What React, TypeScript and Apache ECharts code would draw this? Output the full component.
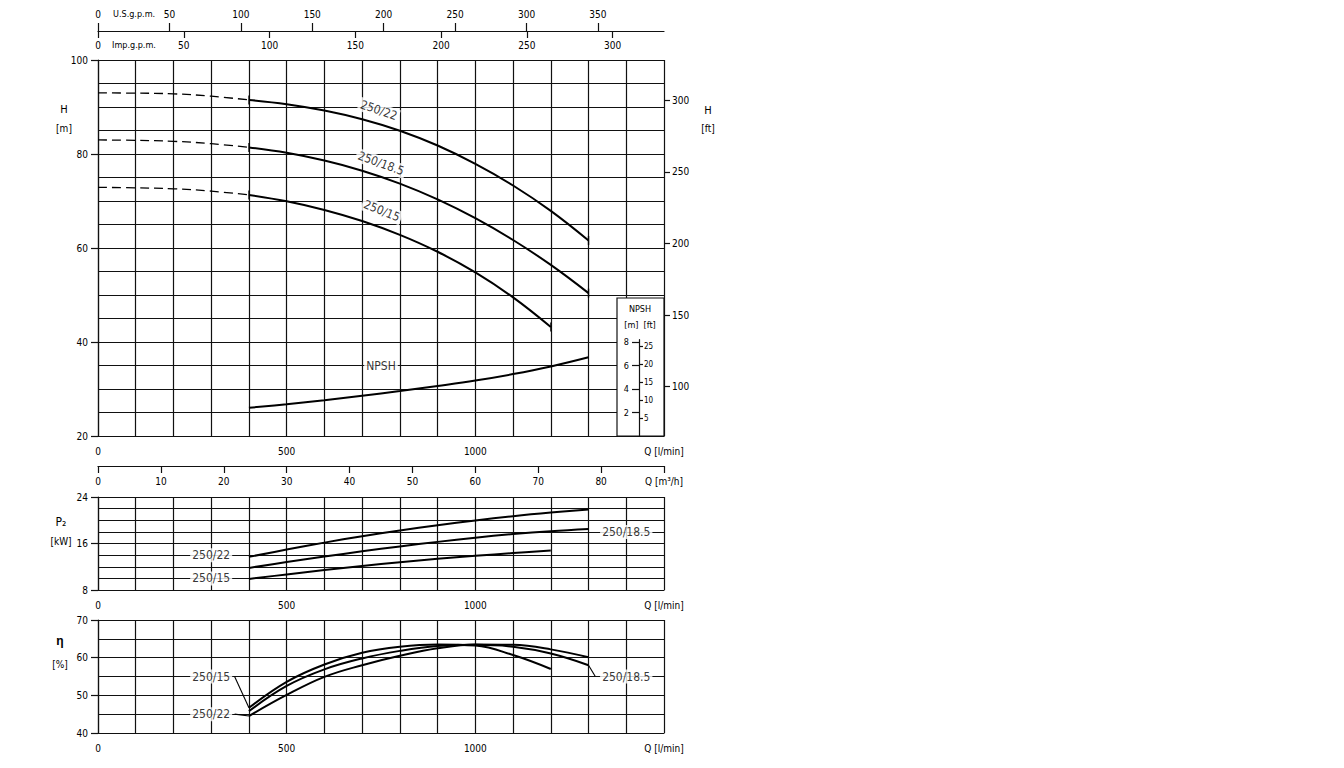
import React, { useEffect, useRef } from "react";
import * as echarts from "echarts";

// ---- data (flow Q in l/min) ----
const Q_SHUTOFF = [0, 100, 200, 300, 400];
const Q_22 = [400, 500, 600, 700, 800, 900, 1000, 1100, 1200, 1300];
const Q_185 = [400, 500, 600, 700, 800, 900, 1000, 1100, 1200, 1300];
const Q_15 = [400, 500, 600, 700, 800, 900, 1000, 1100, 1200];
const Q_NPSH = [400, 500, 600, 700, 800, 900, 1000, 1100, 1200, 1300];

// head H [m]
const H_22_SHUTOFF = [93.0, 92.95, 92.8, 92.3, 91.5];
const H_185_SHUTOFF = [83.0, 82.9, 82.7, 82.2, 81.4];
const H_15_SHUTOFF = [72.9, 72.8, 72.6, 72.1, 71.3];
const H_22 = [91.5, 90.6, 89.25, 87.4, 84.95, 81.8, 77.9, 73.3, 67.9, 61.6];
const H_185 = [81.4, 80.25, 78.6, 76.45, 73.7, 70.35, 66.35, 61.7, 56.4, 50.4];
const H_15 = [71.3, 69.95, 68.1, 65.75, 62.8, 59.2, 54.8, 49.5, 43.2];

// NPSH [m]
const NPSH = [2.4, 2.7, 3.05, 3.43, 3.83, 4.26, 4.72, 5.27, 5.92, 6.7];

// power P2 [kW]
const P2_22 = [13.7, 14.95, 16.15, 17.25, 18.25, 19.15, 19.97, 20.7, 21.32, 21.85];
const P2_185 = [11.8, 12.8, 13.75, 14.65, 15.5, 16.28, 17.0, 17.62, 18.12, 18.5];
const P2_15 = [9.9, 10.68, 11.43, 12.13, 12.78, 13.36, 13.88, 14.35, 14.8];

// efficiency [%]
const EFF_22 = [44.5, 50.1, 54.9, 58.0, 60.5, 62.5, 63.5, 63.4, 62.2, 60.1];
const EFF_185 = [45.8, 52.5, 56.9, 59.8, 61.8, 63.1, 63.4, 62.9, 61.1, 58.0];
const EFF_15 = [46.7, 53.6, 58.2, 61.3, 62.9, 63.5, 63.2, 60.7, 57.0];

// tick labels
const H_M_TICKS = [20, 40, 60, 80, 100];
const H_FT_TICKS = [100, 150, 200, 250, 300];
const Q_LABELS = [0, 500, 1000, 1500];
const USGPM_TICKS = [0, 50, 100, 150, 200, 250, 300, 350];
const IMPGPM_TICKS = [0, 50, 100, 150, 200, 250, 300];
const NPSH_M_TICKS = [2, 4, 6, 8];
const NPSH_FT_TICKS = [5, 10, 15, 20, 25];
const P2_TICKS = [8, 16, 24];
const EFF_TICKS = [40, 50, 60, 70];

// unit conversions
const M_TO_FT = 3.28084;
const L_PER_USGAL = 3.78541;
const L_PER_IMPGAL = 4.54609;

const FONT = "'DejaVu Sans Condensed', 'Liberation Sans Narrow', 'DejaVu Sans', sans-serif";
const INK = "#111";

const pts = (qs: number[], vs: number[]) => vs.map((v, i) => [qs[i], v]);
const ends = (qs: number[], vs: number[]) => [
  [qs[0], vs[0]],
  [qs[qs.length - 1], vs[vs.length - 1]],
];

const lbl = { color: "#000", fontFamily: FONT, fontSize: 10 };
const grid = { show: true, lineStyle: { color: INK, width: 1.2 } };
const axLine = { show: true, onZero: false, lineStyle: { color: INK, width: 1.2 } };
const noLine = { show: false, onZero: false };
const tickStyle = { color: INK, width: 1.2 };

function qAxis(gridIndex: number) {
  return {
    type: "value",
    gridIndex,
    position: "bottom",
    min: 0,
    max: 1500,
    interval: 100,
    axisLine: axLine,
    axisTick: { show: false },
    splitLine: grid,
    axisLabel: {
      ...lbl,
      margin: 10,
      customValues: Q_LABELS,
      formatter: (v: number) => (v === 1500 ? "Q [l/min]" : String(v)),
    },
  };
}

// value axis with grid lines at every interval and labels at selected values
function leftAxis(gridIndex: number, min: number, max: number, interval: number, ticks: number[]) {
  return {
    type: "value",
    gridIndex,
    position: "left",
    min,
    max,
    interval,
    axisLine: axLine,
    axisTick: { show: false },
    axisLabel: { ...lbl, margin: 10, customValues: ticks },
    splitLine: grid,
  };
}

// companion axis drawing only the outward tick marks at labelled values
function tickAxis(gridIndex: number, min: number, max: number, ticks: number[]) {
  return {
    type: "value",
    gridIndex,
    position: "left",
    min,
    max,
    axisLine: noLine,
    axisTick: { show: true, length: 7, customValues: ticks, lineStyle: tickStyle },
    axisLabel: { show: false },
    splitLine: { show: false },
  };
}

const curve = (name: string, data: number[][], x: number, y: number, width = 2, dashed = false) => ({
  type: "line",
  name,
  xAxisIndex: x,
  yAxisIndex: y,
  data,
  smooth: 0.4,
  showSymbol: false,
  symbol: "none",
  silent: true,
  z: 3,
  lineStyle: { color: "#000", width, type: dashed ? [9, 5] : "solid" },
});

const labelSeries = (x: number, y: number, items: any[], extra: any = {}) => ({
  type: "scatter",
  xAxisIndex: x,
  yAxisIndex: y,
  symbolSize: 1,
  silent: true,
  z: 6,
  itemStyle: { color: "rgba(0,0,0,0)" },
  label: {
    show: true,
    position: "inside",
    formatter: "{b}",
    color: "#000",
    fontFamily: FONT,
    fontSize: 12,
    backgroundColor: "#fff",
    padding: [1, 2],
  },
  data: items.map((it) => ({ name: it.name, value: [it.q, it.v], label: { rotate: it.rot || 0 } })),
  ...extra,
});

const txt = (x: number, y: number, text: string, size: number, align = "center", extra: any = {}) => ({
  type: "text",
  x,
  y,
  z: 6,
  style: {
    text,
    fill: "#000",
    font: `${size}px ${FONT}`,
    textAlign: align,
    textVerticalAlign: "middle",
    align,
    verticalAlign: "middle",
    ...extra,
  },
});

const option: any = {
  animation: false,
  backgroundColor: "#fff",
  textStyle: { fontFamily: FONT },
  grid: [
    { left: 98, top: 60, width: 566, height: 376 },
    { left: 639, top: 339.7, width: 10, height: 96.3 },
    { left: 98, top: 497, width: 566, height: 93 },
    { left: 98, top: 620, width: 566, height: 113 },
  ],
  xAxis: [
    qAxis(0),
    {
      type: "value",
      gridIndex: 0,
      position: "bottom",
      offset: 30,
      min: 0,
      max: 90,
      interval: 10,
      axisLine: axLine,
      axisTick: { show: true, length: 7, lineStyle: tickStyle },
      splitLine: { show: false },
      axisLabel: { ...lbl, margin: 10, formatter: (v: number) => (v === 90 ? "Q [m³/h]" : String(v)) },
    },
    {
      type: "value",
      gridIndex: 0,
      position: "top",
      offset: 29,
      min: 0,
      max: 1500 / L_PER_USGAL,
      axisLine: axLine,
      axisTick: { show: true, length: 8, customValues: USGPM_TICKS, lineStyle: tickStyle },
      splitLine: { show: false },
      axisLabel: { ...lbl, margin: 12, customValues: USGPM_TICKS },
    },
    {
      type: "value",
      gridIndex: 0,
      position: "top",
      offset: 29,
      min: 0,
      max: 1500 / L_PER_IMPGAL,
      axisLine: noLine,
      axisTick: { show: true, inside: true, length: 7, customValues: IMPGPM_TICKS, lineStyle: tickStyle },
      splitLine: { show: false },
      axisLabel: { ...lbl, inside: true, margin: 9, customValues: IMPGPM_TICKS },
    },
    { type: "value", gridIndex: 1, min: 0, max: 1, show: false },
    qAxis(2),
    qAxis(3),
  ],
  yAxis: [
    leftAxis(0, 20, 100, 5, H_M_TICKS), // 0
    {
      // 1: feet scale on the right
      type: "value",
      gridIndex: 0,
      position: "right",
      min: 20 * M_TO_FT,
      max: 100 * M_TO_FT,
      axisLine: noLine,
      axisTick: { show: true, length: 6, customValues: H_FT_TICKS, lineStyle: tickStyle },
      axisLabel: { ...lbl, margin: 8, customValues: H_FT_TICKS },
      splitLine: { show: false },
    },
    { type: "value", gridIndex: 0, min: 0, max: 32, show: false, axisLine: noLine }, // 2: NPSH [m] on H grid
    {
      // 3: NPSH inset [m]
      type: "value",
      gridIndex: 1,
      position: "left",
      min: 0,
      max: 8.2,
      z: 10,
      axisLine: axLine,
      axisTick: { show: true, length: 7, customValues: NPSH_M_TICKS, lineStyle: tickStyle },
      axisLabel: { ...lbl, fontSize: 9, margin: 10, customValues: NPSH_M_TICKS },
      splitLine: { show: false },
    },
    {
      // 4: NPSH inset [ft]
      type: "value",
      gridIndex: 1,
      position: "left",
      min: 0,
      max: 8.2 * M_TO_FT,
      z: 10,
      axisLine: noLine,
      axisTick: { show: true, inside: true, length: 4, customValues: NPSH_FT_TICKS, lineStyle: tickStyle },
      axisLabel: { ...lbl, fontSize: 8, inside: true, margin: 5, customValues: NPSH_FT_TICKS },
      splitLine: { show: false },
    },
    leftAxis(2, 8, 24, 2, P2_TICKS), // 5
    leftAxis(3, 40, 70, 5, EFF_TICKS), // 6
    tickAxis(0, 20, 100, H_M_TICKS), // 7
    tickAxis(2, 8, 24, P2_TICKS), // 8
    tickAxis(3, 40, 70, EFF_TICKS), // 9
  ],
  series: [
    // head curves
    curve("250/22 shutoff", pts(Q_SHUTOFF, H_22_SHUTOFF), 0, 0, 1.3, true),
    curve("250/18.5 shutoff", pts(Q_SHUTOFF, H_185_SHUTOFF), 0, 0, 1.3, true),
    curve("250/15 shutoff", pts(Q_SHUTOFF, H_15_SHUTOFF), 0, 0, 1.3, true),
    curve("250/22", pts(Q_22, H_22), 0, 0),
    curve("250/18.5", pts(Q_185, H_185), 0, 0),
    curve("250/15", pts(Q_15, H_15), 0, 0),
    {
      type: "scatter",
      xAxisIndex: 0,
      yAxisIndex: 0,
      symbol: "rect",
      symbolSize: [1.5, 9],
      silent: true,
      z: 4,
      itemStyle: { color: "#000" },
      data: [...ends(Q_22, H_22), ...ends(Q_185, H_185), ...ends(Q_15, H_15)],
    },
    curve("NPSH", pts(Q_NPSH, NPSH), 0, 2),
    labelSeries(0, 0, [
      { name: "250/22", q: 744, v: 89.3, rot: -19 },
      { name: "250/18.5", q: 750, v: 78.0, rot: -20 },
      { name: "250/15", q: 752, v: 67.9, rot: -22 },
      { name: "NPSH", q: 750, v: 35, rot: 0 },
    ]),
    // power curves
    curve("P2 250/22", pts(Q_22, P2_22), 5, 5),
    curve("P2 250/18.5", pts(Q_185, P2_185), 5, 5),
    curve("P2 250/15", pts(Q_15, P2_15), 5, 5),
    labelSeries(5, 5, [
      { name: "250/22", q: 300, v: 14 },
      { name: "250/15", q: 300, v: 10 },
      { name: "250/18.5", q: 1400, v: 18 },
    ]),
    // efficiency curves
    curve("eta 250/22", pts(Q_22, EFF_22), 6, 6),
    curve("eta 250/18.5", pts(Q_185, EFF_185), 6, 6),
    curve("eta 250/15", pts(Q_15, EFF_15), 6, 6),
    labelSeries(
      6,
      6,
      [
        { name: "250/15", q: 300, v: 55 },
        { name: "250/22", q: 300, v: 45 },
        { name: "250/18.5", q: 1400, v: 55 },
      ],
      {
        markLine: {
          silent: true,
          symbol: "none",
          animation: false,
          label: { show: false },
          lineStyle: { color: "#000", width: 1.1, type: "solid" },
          data: [
            [{ coord: [362, 55] }, { coord: [400, 46.7] }],
            [{ coord: [362, 45] }, { coord: [400, 44.5] }],
            [{ coord: [1300, 58] }, { coord: [1318, 55] }],
          ],
        },
      }
    ),
  ],
  graphic: [
    { type: "rect", z: 5, shape: { x: 617, y: 298, width: 47, height: 138 }, style: { fill: "#fff", stroke: INK, lineWidth: 1.2 } },
    txt(640, 309, "NPSH", 9),
    txt(640, 325, "[m]  [ft]", 9),
    txt(113, 14, "U.S.g.p.m.", 9, "left"),
    txt(112, 45, "Imp.g.p.m.", 9, "left"),
    txt(64, 109, "H", 11),
    txt(64, 128, "[m]", 10),
    txt(708, 110, "H", 11),
    txt(708, 128, "[ft]", 10),
    txt(61, 522, "P₂", 12),
    txt(61, 541, "[kW]", 10),
    txt(60, 641, "η", 12, "center", { fontWeight: "bold" }),
    txt(60, 664, "[%]", 10),
  ],
};

export default function App() {
  const ref = useRef<HTMLDivElement>(null);
  useEffect(() => {
    if (!ref.current) return;
    const chart = echarts.init(ref.current, null, { renderer: "svg" });
    chart.setOption(option);
    return () => chart.dispose();
  }, []);
  return (
    <div
      ref={ref}
      style={{ position: "fixed", left: 0, top: 0, width: 1344, height: 768, background: "#fff" }}
    />
  );
}
